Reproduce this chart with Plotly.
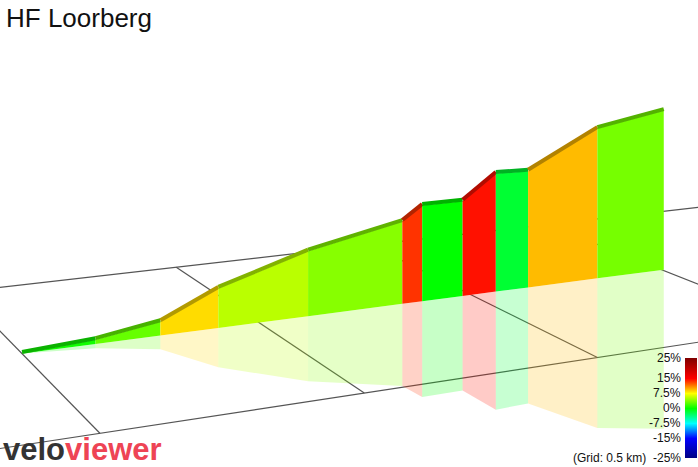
import numpy as np
import plotly.graph_objects as go
from plotly.colors import sample_colorscale

# route profile (distance km, elevation m) and segment grades (%)
dist_km = [0.0, 0.149, 0.285, 0.41, 0.611, 0.832, 0.88, 0.979, 1.062, 1.144, 1.325, 1.505]
elev_m = [0, 4, 13, 38, 64, 83, 97, 97, 122, 121, 159, 172]
grades = [0.5, 3.0, 8.5, 5.5, 4.0, 13.5, 0.0, 14.5, -1.5, 9.5, 3.5]

grade_ticks = [25, 15, 7.5, 0, -7.5, -15, -25]
grade_labels = ["25%", "15%", "7.5%", "0%", "-7.5%", "-15%", "-25%"]

grid_x_km = [0.0, 0.5, 1.0, 1.5, 2.0]
grid_y_km = [-0.5, 0.5]

G_MIN, G_MAX = -25, 25
scale = [[0.0, "#000080"], [0.2, "#0000ff"], [0.35, "#00ffff"], [0.5, "#00ff00"],
         [0.65, "#ffff00"], [0.8, "#ff0000"], [1.0, "#800000"]]


def grade_color(g):
    t = (min(max(g, G_MIN), G_MAX) - G_MIN) / (G_MAX - G_MIN)
    return sample_colorscale(scale, [t], colortype="tuple")[0]


def rgb(c, k=1.0, a=None):
    r, g, b = [int(min(255, v * 255 * k)) for v in c]
    return f"rgba({r},{g},{b},{a})" if a is not None else f"rgb({r},{g},{b})"


# ground-plane perspective fitted to the reference view
src = [(0.5, 0.5), (0.5, -0.5), (1.0, -0.5), (0, -0.5),
       (0, 0), (0.5, 0), (1.0, 0), (1.5, 0)]
dst = [(178, 268), (365, 393), (597, 357), (102, 435),
       (20, 352), (258, 322), (469, 295), (663, 270)]
A = []
for (X, Y), (u, v) in zip(src, dst):
    A.append([X, Y, 1, 0, 0, 0, -u * X, -u * Y, -u])
    A.append([0, 0, 0, X, Y, 1, -v * X, -v * Y, -v])
H = np.linalg.svd(np.array(A, float))[2][-1].reshape(3, 3)


def proj(X, Y):
    p = H @ np.array([X, Y, 1.0])
    return p[0] / p[2], p[1] / p[2], p[2]


w_ref = proj(0.75, 0)[2]

fig = go.Figure()

# grid
for gx in grid_x_km:
    pts = [proj(gx, y) for y in np.linspace(-0.5, 0.5, 20)]
    fig.add_trace(go.Scatter(x=[p[0] for p in pts], y=[p[1] for p in pts], mode="lines",
                             line=dict(color="#555", width=1.2), hoverinfo="skip"))
for gy in grid_y_km:
    pts = [proj(x, gy) for x in np.linspace(-0.5, 2.5, 40)]
    fig.add_trace(go.Scatter(x=[p[0] for p in pts], y=[p[1] for p in pts], mode="lines",
                             line=dict(color="#555", width=1.2), hoverinfo="skip"))

base = [proj(d, 0) for d in dist_km]
bx = [p[0] for p in base]
by = [p[1] for p in base]
hpx = [e * w_ref / p[2] for e, p in zip(elev_m, base)]

# reflections
for i, g in enumerate(grades):
    c = grade_color(g)
    xs = [bx[i], bx[i + 1], bx[i + 1], bx[i], bx[i]]
    ys = [by[i], by[i + 1], by[i + 1] + hpx[i + 1], by[i] + hpx[i], by[i]]
    fig.add_trace(go.Scatter(x=xs, y=ys, mode="lines", fill="toself", line=dict(width=0),
                             fillcolor=rgb(c, a=0.22), hoverinfo="skip"))

# walls
for i, g in enumerate(grades):
    c = grade_color(g)
    xs = [bx[i], bx[i + 1], bx[i + 1], bx[i], bx[i]]
    ys = [by[i], by[i + 1], by[i + 1] - hpx[i + 1], by[i] - hpx[i], by[i]]
    fig.add_trace(go.Scatter(x=xs, y=ys, mode="lines", fill="toself", line=dict(width=0),
                             fillcolor=rgb(c), hoverinfo="skip"))
    fig.add_trace(go.Scatter(x=[bx[i], bx[i + 1]], y=[by[i] - hpx[i] - 1.5, by[i + 1] - hpx[i + 1] - 1.5],
                             mode="lines", line=dict(color=rgb(c, 0.7), width=4), hoverinfo="skip"))

# colour bar
gv = np.linspace(G_MIN, G_MAX, 101)
fig.add_trace(go.Heatmap(z=[[v] for v in gv], y=gv, x=[0], colorscale=scale, zmin=G_MIN, zmax=G_MAX,
                         showscale=False, xaxis="x2", yaxis="y2", hoverinfo="skip"))

ann = [dict(text="HF Loorberg", x=4, y=18, xref="x", yref="y", xanchor="left", yanchor="middle",
            showarrow=False, font=dict(size=26, color="#111")),
       dict(text="<b><span style='color:#333'>velo</span><span style='color:#ee4455'>viewer</span></b>",
            x=1, y=449, xref="x", yref="y", xanchor="left", yanchor="middle", showarrow=False,
            font=dict(size=31, family="Liberation Sans")),
       dict(text="(Grid: 0.5 km)", x=648, y=458, xref="x", yref="y", xanchor="right", yanchor="middle",
            showarrow=False, font=dict(size=12, color="#111"))]
for v, lab in zip(grade_ticks, grade_labels):
    ann.append(dict(text=lab, x=-0.2, y=v, xref="x2 domain", yref="y2", xanchor="right",
                    yanchor="middle", showarrow=False, font=dict(size=12, color="#111")))

fig.update_layout(
    width=698, height=467, margin=dict(l=0, r=0, t=0, b=0),
    paper_bgcolor="white", plot_bgcolor="white", showlegend=False,
    font=dict(family="Liberation Sans, Arial, sans-serif"),
    xaxis=dict(range=[0, 698], visible=False, fixedrange=True),
    yaxis=dict(range=[467, 0], visible=False, fixedrange=True),
    xaxis2=dict(domain=[685 / 698, 697 / 698], visible=False, anchor="y2"),
    yaxis2=dict(domain=[(467 - 458) / 467, (467 - 358) / 467], range=[G_MIN, G_MAX], visible=False, anchor="x2"),
    annotations=ann,
)

fig.write_html("out.html", config={"displayModeBar": False},
               post_script="document.body.style.margin='0';")
